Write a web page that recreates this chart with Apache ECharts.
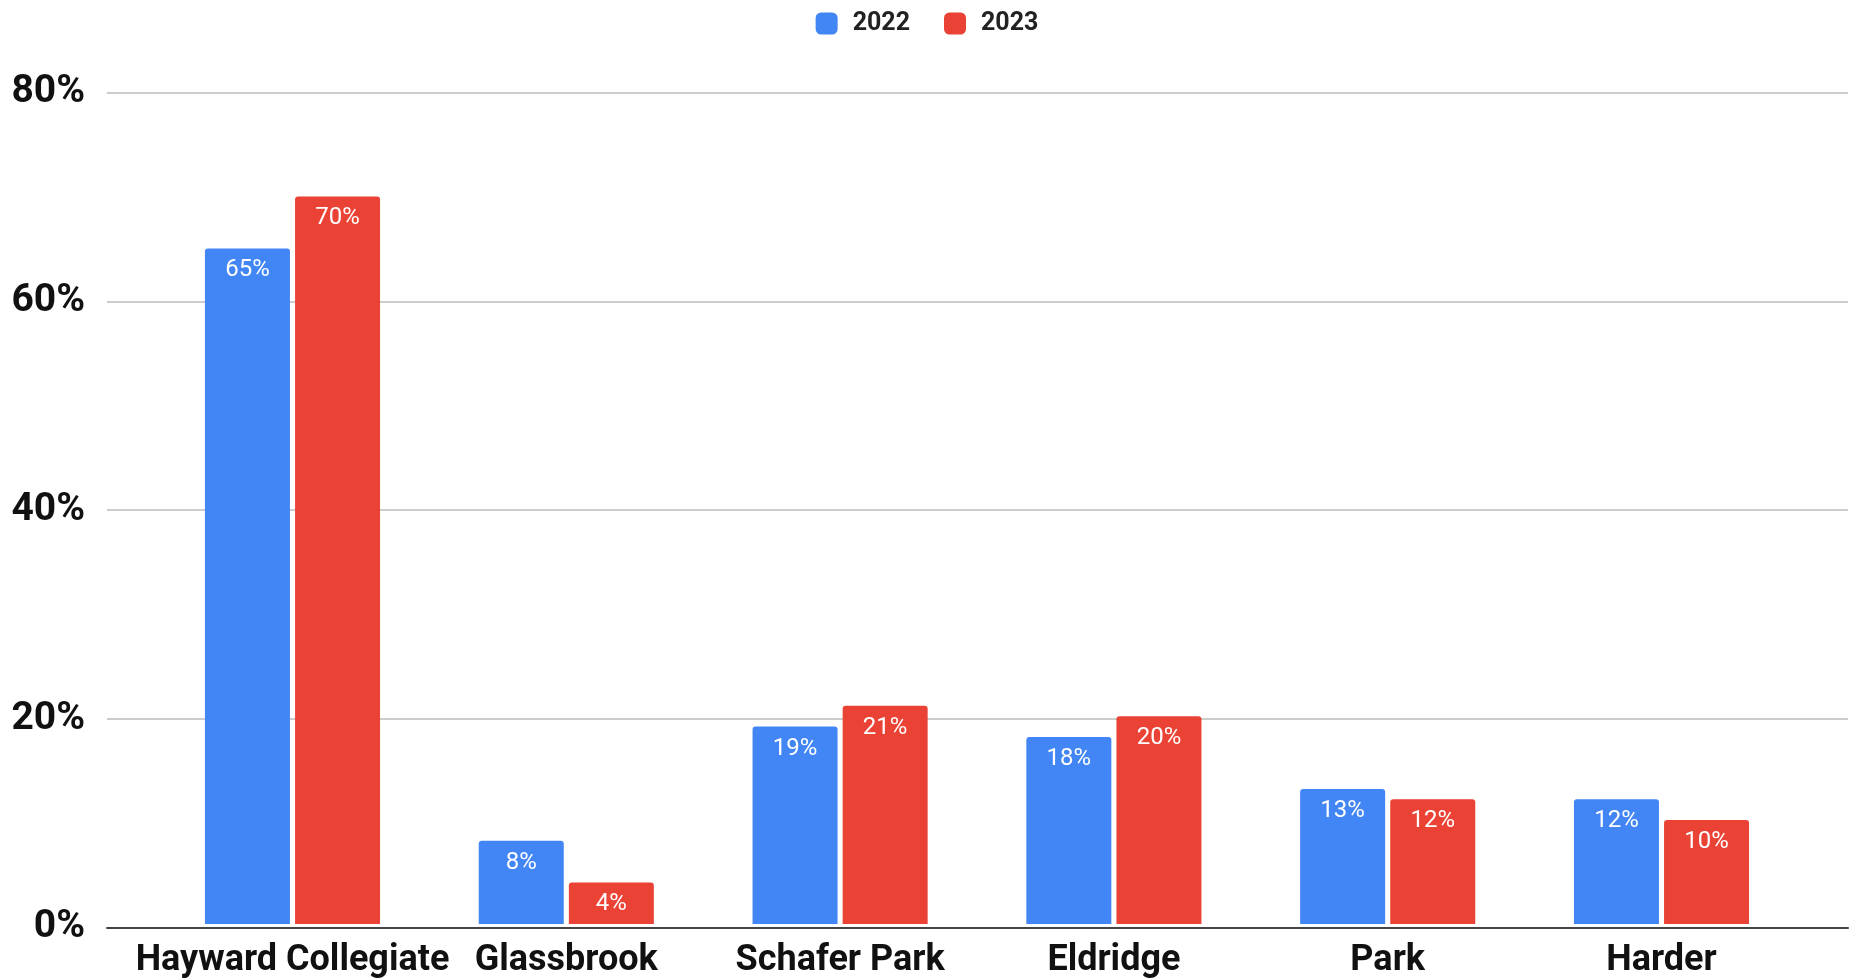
<!DOCTYPE html>
<html>
<head>
<meta charset="utf-8">
<script src="https://cdn.jsdelivr.net/npm/echarts@6/dist/echarts.min.js"></script>
<style>
html,body{margin:0;padding:0;background:#fff;}
#chart{width:1854px;height:979px;}
</style>
</head>
<body>
<div id="chart"></div>
<script>
const categories = ['Hayward Collegiate', 'Glassbrook', 'Schafer Park', 'Eldridge', 'Park', 'Harder'];
const values2022 = [65, 8, 19, 18, 13, 12];
const values2023 = [70, 4, 21, 20, 12, 10];
const seriesNames = ['2022', '2023'];
const yTicks = [0, 20, 40, 60, 80];

const chart = echarts.init(document.getElementById('chart'));
const labelOpt = {
  show: true,
  position: 'insideTop',
  distance: 10,
  color: '#ffffff',
  fontFamily: 'Roboto',
  fontSize: 24,
  formatter: p => p.value + '%'
};
const yMin = yTicks[0], yMax = yTicks[yTicks.length - 1];
chart.setOption({
  animation: false,
  textStyle: { fontFamily: 'Roboto' },
  legend: {
    top: 6,
    left: 'center',
    itemWidth: 22,
    itemHeight: 22,
    itemGap: 34,
    icon: 'roundRect',
    textStyle: { fontFamily: 'Roboto', fontSize: 25, fontWeight: 'bold', color: '#222', padding: [0, 0, 0, 10] },
    data: seriesNames
  },
  grid: [
    { left: 107, right: 6, top: 92.5, bottom: 51.5, containLabel: false },
    { left: 155.6, right: 55.6, top: 92.5, bottom: 51.5, containLabel: false }
  ],
  xAxis: [
    {
      type: 'value', gridIndex: 0, min: 0, max: 1,
      axisLabel: { show: false }, axisTick: { show: false }, splitLine: { show: false },
      axisLine: { show: true, onZero: false, lineStyle: { color: '#444', width: 2 } },
      z: 5
    },
    {
      type: 'category', gridIndex: 1,
      data: categories,
      axisTick: { show: false },
      axisLine: { show: false },
      axisLabel: { interval: 0, fontFamily: 'Roboto', fontSize: 36, fontWeight: 'bold', color: '#111', margin: 19 }
    }
  ],
  yAxis: [
    {
      type: 'value', gridIndex: 0,
      min: yMin, max: yMax, interval: 20,
      axisLine: { show: false },
      axisTick: { show: false },
      splitLine: { lineStyle: { color: '#cccccc', width: 2 } },
      axisLabel: { fontFamily: 'Roboto', fontSize: 39, fontWeight: 'bold', color: '#111', margin: 22, padding: [10, 0, 0, 0], formatter: '{value}%' }
    },
    {
      type: 'value', gridIndex: 1,
      min: yMin, max: yMax, interval: 20,
      axisLine: { show: false }, axisTick: { show: false },
      splitLine: { show: false }, axisLabel: { show: false }
    }
  ],
  series: [
    { name: seriesNames[0], type: 'bar', xAxisIndex: 1, yAxisIndex: 1, data: values2022, barWidth: 85, barGap: '6%',
      itemStyle: { color: '#4285F4', borderRadius: [3, 3, 0, 0] }, label: labelOpt },
    { name: seriesNames[1], type: 'bar', xAxisIndex: 1, yAxisIndex: 1, data: values2023, barWidth: 85, barGap: '6%',
      itemStyle: { color: '#EA4335', borderRadius: [3, 3, 0, 0] }, label: labelOpt }
  ]
});
</script>
</body>
</html>
